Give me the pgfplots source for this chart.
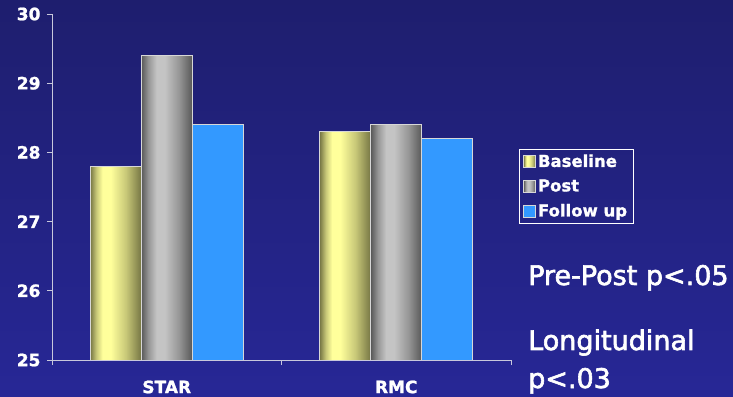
\documentclass[border=0pt]{standalone}
\usepackage{pgfplots}
\pgfplotsset{compat=1.18}
\usepackage{fontspec}
\setmainfont{DejaVu Sans}
\newfontfamily\annfont{DejaVu Sans}[FakeBold=2.2]
\newfontfamily\lblfont{DejaVu Sans Bold}[FakeBold=1.2]

\definecolor{bgtop}{RGB}{30,30,110}
\definecolor{bgbot}{RGB}{39,39,150}
\definecolor{axcol}{RGB}{200,200,220}
\definecolor{barborder}{RGB}{215,215,215}
\definecolor{bldark}{RGB}{118,118,68}
\definecolor{blmid}{RGB}{200,200,120}
\definecolor{bllight}{RGB}{255,255,155}
\definecolor{gdark}{RGB}{88,88,88}
\definecolor{gmid}{RGB}{150,150,150}
\definecolor{glight}{RGB}{196,196,196}
\definecolor{fublue}{RGB}{51,153,255}

\pgfdeclarehorizontalshading{baselineshade}{100bp}{color(0bp)=(bldark); color(25bp)=(bldark); color(31bp)=(blmid); color(37bp)=(bllight); color(45bp)=(bllight); color(60bp)=(blmid); color(75bp)=(bldark); color(100bp)=(bldark)}
\pgfdeclarehorizontalshading{postshade}{100bp}{color(0bp)=(gdark); color(25bp)=(gdark); color(32bp)=(gmid); color(40bp)=(glight); color(48bp)=(glight); color(62bp)=(gmid); color(75bp)=(gdark); color(100bp)=(gdark)}

\begin{document}
\begin{tikzpicture}
\useasboundingbox (0,0) rectangle (733bp,397bp);
\shade[top color=bgtop, bottom color=bgbot] (0,0) rectangle (733bp,397bp);
\begin{axis}[
  at={(52bp,37bp)}, anchor=south west,
  scale only axis, width=459bp, height=346bp,
  ymin=25, ymax=30, ytick={25,26,27,28,29,30},
  yticklabels={25,26,27,28,29,30},
  xmin=-0.5, xmax=1.5,
  xtick={0,1}, xticklabels={STAR,RMC},
  minor xtick={-0.5,0.5,1.5},
  major x tick style={draw=none},
  minor tick length=5bp, major tick length=5bp,
  tick align=outside,
  axis x line*=bottom, axis y line*=left,
  axis line style={draw=axcol, line width=1bp},
  every tick/.style={draw=axcol, line width=1bp},
  ybar=0pt, bar width=51bp,
  ticklabel style={font=\lblfont\fontsize{17bp}{20bp}\selectfont, text=white},
  yticklabel style={xshift=-3bp},
  xticklabel style={yshift=-12bp},
  legend style={at={(rel axis cs:1.0174,0.6098)}, anchor=north west,
    draw=white, line width=0.8bp, fill=none, text=white,
    font=\lblfont\fontsize{16.5bp}{19bp}\selectfont,
    row sep=7bp, inner xsep=4bp, inner ysep=3bp},
  legend cell align=left,
  legend image code/.code={\draw[#1, line width=0.6bp] (0bp,-6bp) rectangle (12bp,6bp);},
]
\addplot[draw=barborder, line width=0.8bp, shading=baselineshade, bar shift=-51bp] coordinates {(0,27.8)};
\addplot[forget plot, draw=barborder, line width=0.8bp, shading=baselineshade, bar shift=-51bp] coordinates {(1,28.3)};
\addplot[draw=barborder, line width=0.8bp, shading=postshade, bar shift=0bp] coordinates {(0,29.4)};
\addplot[forget plot, draw=barborder, line width=0.8bp, shading=postshade, bar shift=0bp] coordinates {(1,28.4)};
\addplot[draw=barborder, line width=0.8bp, fill=fublue, bar shift=51bp] coordinates {(0,28.4) (1,28.2)};
\legend{Baseline,Post,Follow up}
\end{axis}
\node[anchor=base west, inner sep=0, text=white, font=\annfont\fontsize{27bp}{32bp}\selectfont] at (528bp,112bp) {Pre-Post p<.05};
\node[anchor=base west, inner sep=0, text=white, font=\annfont\fontsize{27bp}{32bp}\selectfont] at (528bp,47bp) {Longitudinal};
\node[anchor=base west, inner sep=0, text=white, font=\annfont\fontsize{27bp}{32bp}\selectfont] at (528bp,9bp) {p<.03};
\end{tikzpicture}
\end{document}
